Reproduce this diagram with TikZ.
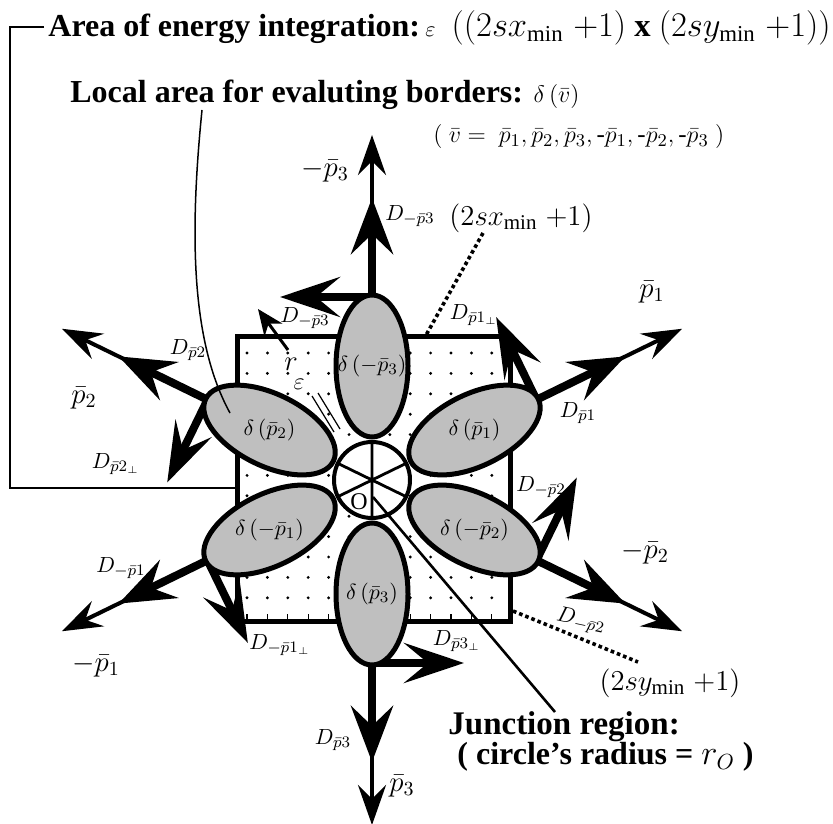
\documentclass[tikz,border=0pt]{standalone}
\usepackage{fontspec}
\setmainfont{Liberation Serif}
\usetikzlibrary{arrows.meta,shapes.geometric,calc}
\begin{document}
\begin{tikzpicture}[x=0.5pt,y=-0.5pt,
 thk/.style={line width=4pt,-{Stealth[length=28pt,width=21pt,inset=10pt]}},
 thn/.style={line width=2pt,-{Stealth[length=20pt,width=14pt,inset=7pt]}},
 prp/.style={line width=4pt,-{Stealth[length=30pt,width=20pt,inset=12pt]}},
 lob/.style={ellipse,draw,line width=2.5pt,fill=black!25,minimum width=71pt,minimum height=36pt,inner sep=0pt,outer sep=0pt},
 dlab/.style={font=\fontsize{10.8}{12}\selectfont,inner sep=0pt},
 plab/.style={font=\fontsize{14}{15}\selectfont,inner sep=0pt},
 slab/.style={font=\fontsize{15}{16}\selectfont,inner sep=0pt},
 elab/.style={font=\fontsize{11}{12}\selectfont,inner sep=0pt},
 btxt/.style={font=\fontsize{16}{18}\selectfont\bfseries,inner sep=0pt,anchor=west},
 dotln/.style={line width=1.8pt,dash pattern=on 1.8pt off 1.5pt},
 thinln/.style={line width=0.75pt},
]
\useasboundingbox (0,0) rectangle (833,823);
\coordinate (C) at (372,480);
% square with dot grid
\fill[white] (237,336) rectangle (510,621);
\foreach \i in {0,...,12}{
 \foreach \j in {0,...,12}{
  \fill (247+20.4*\i,353+20.4*\j) circle[radius=0.8pt];
 }
 \draw[line width=0.6pt] (247+20.4*\i,621) -- ++(0,-7);
}
\draw[line width=2.5pt] (237,336) rectangle (510,621);
% arrows
\foreach \a in {-90,-26,-154,154,26,90}{
 \draw[thn] ($(C)+(\a:268)$) -- ($(C)+(\a:345)$);
 \draw[thk] ($(C)+(\a:183)$) -- ($(C)+(\a:282)$);
 \draw[prp] ($(C)+(\a:183)$) -- ($(C)+(\a:183)+(\a-90:92)$);
}
% lobes
\node[lob,rotate=90] (Lmp3) at ($(C)+(-90:114)$) {};
\node[lob,rotate=90] (Lp3) at ($(C)+(90:114)$) {};
\node[lob,rotate=26] (Lp1) at ($(C)+(-26:114)$) {};
\node[lob,rotate=-26] (Lp2) at ($(C)+(-154:114)$) {};
\node[lob,rotate=26] (Lmp1) at ($(C)+(154:114)$) {};
\node[lob,rotate=-26] (Lmp2) at ($(C)+(26:114)$) {};
\node[elab] (tmp3) at (Lmp3) {$\delta\,(-\bar p_3)$};
\node[elab] (tp3) at (Lp3) {$\delta\,(\bar p_3)$};
\node[elab] (tp1) at (Lp1) {$\delta\,(\bar p_1)$};
\node[elab] (tp2) at (Lp2) {$\delta\,(\bar p_2)$};
\node[elab] (tmp1) at (Lmp1) {$\delta\,(-\bar p_1)$};
\node[elab] (tmp2) at (Lmp2) {$\delta\,(-\bar p_2)$};
% junction circle
\node[circle,draw,line width=2pt,fill=white,minimum size=38pt,inner sep=0pt] (J) at (C) {};
\draw[line width=1.4pt] ($(C)+(-90:37)$) -- ($(C)+(90:37)$)
  ($(C)+(-26:37)$) -- ($(C)+(154:37)$)
  ($(C)+(26:37)$) -- ($(C)+(-154:37)$);
\node[font=\fontsize{12}{13}\selectfont,inner sep=0pt] (Olab) at (359,502) {O};
% header texts
\node[btxt] (hdr) at (48,28) {Area of energy integration:\,{\fontsize{11}{12}\selectfont\mdseries$\varepsilon$}\ \ {\fontsize{16.3}{17}\selectfont$((2sx_{\min}\;{+}1)$ x $(2sy_{\min}\;{+}1))$}};
\node[btxt] (loc) at (70,95) {Local area for evaluting borders: {\fontsize{13}{14}\selectfont\mdseries$\delta\,(\bar v)$}};
\node[font=\fontsize{12.5}{13}\selectfont,inner sep=0pt,anchor=west] (vlist) at (433,137) {$(\ \bar v=\ \bar p_1,\bar p_2,\bar p_3,\mbox{-}\bar p_1,\mbox{-}\bar p_2,\mbox{-}\bar p_3\ )$};
\node[btxt,font=\fontsize{16.5}{18}\selectfont\bfseries] (junc) at (448,727) {Junction region:};
\node[btxt] (junc2) at (457,757) {( circle's radius = {\mdseries$r_O$} )};
% leaders
\coordinate (hb) at (44,27);
\coordinate (bl) at (10,27);
\coordinate (br) at (10,488);
\coordinate (sq) at (237,488);
\draw[thinln] (hb) -- (bl) -- (br) -- (sq);
\coordinate (ls) at (202,110);
\coordinate (le) at (230,413);
\draw[thinln] (ls) .. controls (190,230) and (190,340) .. (le);
\coordinate (jl) at (555,712);
\draw[line width=1.3pt] (373,497) -- (jl);
\draw[line width=0.6pt] (312,396) -- (334,432) (318,393) -- (340,429);
\draw[line width=1.5pt,-{Stealth[length=13pt,width=11pt,inset=4pt]}] (288,350) -- (258,309);
\coordinate (dxa) at (483,233);
\coordinate (dxb) at (425,337);
\draw[dotln] (dxa) -- (dxb);
\coordinate (dya) at (513,611);
\coordinate (dyb) at (638,662);
\draw[dotln] (dya) -- (dyb);
% labels
\node[plab] (lmp3) at (325,171) {$-\bar p_3$};
\node[dlab] (lDmp3) at (410,216) {$D_{-\bar p3}$};
\node[slab] (lsx) at (521,218) {$(2sx_{\min}\;{+}1)$};
\node[plab] (lp1) at (652,292) {$\bar p_1$};
\node[dlab] (lDp1perp) at (474,315) {$D_{\bar p1_{\perp}}$};
\node[dlab] (lDp1) at (578,413) {$D_{\bar p1}$};
\node[dlab] (lDmp2perp) at (547,487) {$D_{-\bar p2_{\perp}}$};
\node[plab] (lmp2) at (645,553) {$-\bar p_2$};
\node[dlab,rotate=-12] (lDmp2) at (581,621) {$D_{-\bar p2}$};
\node[slab] (lsy) at (670,683) {$(2sy_{\min}\;{+}1)$};
\node[dlab] (lDp3perp) at (457,641) {$D_{\bar p3_{\perp}}$};
\node[dlab] (lDp3) at (333,740) {$D_{\bar p3}$};
\node[plab] (lp3) at (402,786) {$\bar p_3$};
\node[dlab] (lDmp1perp) at (280,645) {$D_{-\bar p1_{\perp}}$};
\node[dlab] (lDmp1) at (121,568) {$D_{-\bar p1}$};
\node[plab] (lmp1) at (96,666) {$-\bar p_1$};
\node[plab] (lp2) at (84,398) {$\bar p_2$};
\node[dlab] (lDp2) at (188,350) {$D_{\bar p2}$};
\node[dlab] (lDp2perp) at (116,464) {$D_{\bar p2_{\perp}}$};
\node[dlab] (lDmp3b) at (305,318) {$D_{-\bar p3}$};
\node[plab] (lr) at (291,364) {$r$};
\node[font=\fontsize{12}{13}\selectfont,inner sep=0pt] (leps) at (299,384) {$\varepsilon$};
\end{tikzpicture}
\end{document}
